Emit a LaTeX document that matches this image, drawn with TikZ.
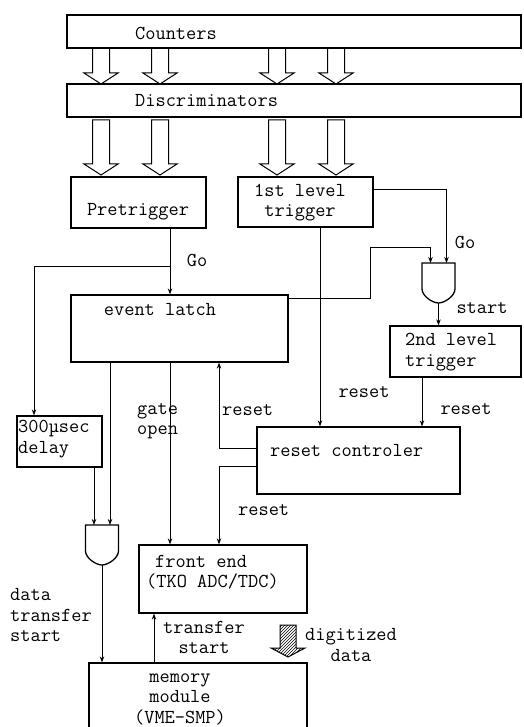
\documentclass[tikz,border=0pt]{standalone}
\usepackage{fontspec}
\usetikzlibrary{arrows.meta,fit,patterns}

\tikzset{
  blk/.style={draw,line width=1.3pt,inner sep=0pt},
  txt/.style={font=\ttfamily\fontsize{19.8}{20.5}\selectfont,inner sep=0pt},
  sig/.style={line width=0.9pt,-{Stealth[length=6pt,width=4.5pt]}},
  fat/.style={line width=1pt},
  pics/andgate/.style={code={
    \draw[line width=1.3pt] (-16.5,0) -- (16.5,0) -- (16.5,26)
      .. controls (16.5,33) and (6,40) .. (0,40)
      .. controls (-6,40) and (-16.5,33) .. (-16.5,26) -- cycle;
    \coordinate (-in1) at (-8,0);
    \coordinate (-in2) at (8,0);
    \coordinate (-out) at (0,40);
  }}
}

\begin{document}
\begin{tikzpicture}[x=1pt,y=-1pt]
  \useasboundingbox (0,0) rectangle (523,727);

  % boxes
  \node[blk,fit={(67,15) (521,48)}]    (cnt)  {};
  \node[blk,fit={(67,84) (521,117)}]   (disc) {};
  \node[blk,fit={(71,177) (206,228)}]  (pre)  {};
  \node[blk,fit={(238,177) (373,227)}] (lvl1) {};
  \node[blk,fit={(71,295) (288,362)}]  (el)   {};
  \node[blk,fit={(390,326) (521,377)}] (lvl2) {};
  \node[blk,fit={(17,416) (102,467)}]  (dly)  {};
  \node[blk,fit={(257,427) (460,494)}] (rc)   {};
  \node[blk,fit={(139,545) (307,613)}] (fe)   {};
  \node[blk,fit={(89,663) (307,745)}]  (mem)  {};

  % coincidence gates
  \pic (g2) at (438.5,263) {andgate};
  \pic (g1) at (102,525) {andgate};

  % hollow bus arrows
  \foreach \ax in {101,160,277,336}{
    \draw[fat] (\ax-8.5,48) -- (\ax-8.5,73) -- (\ax-17,73) -- (\ax,84)
      -- (\ax+17,73) -- (\ax+8.5,73) -- (\ax+8.5,48);
    \draw[fat] (\ax-8.5,120) -- (\ax-8.5,164) -- (\ax-17,164) -- (\ax,175)
      -- (\ax+17,164) -- (\ax+8.5,164) -- (\ax+8.5,120) -- cycle;
  }
  \draw[fat,pattern=north east lines] (280,625) -- (280,648) -- (271,648) -- (288,657)
    -- (305,648) -- (296,648) -- (296,625) -- cycle;

  % signals
  \draw[sig] (pre.south -| 170,0) -- (el.north -| 170,0);
  \coordinate (split) at (170,266);
  \draw[sig] (split) -| (dly.north -| 34,0);
  \draw[sig] (lvl1.east |- 0,189) -| (g2-in2);
  \draw[sig] (el.east |- 0,298) -| (370,247) -| (g2-in1);
  \draw[sig] (g2-out) -- (lvl2.north -| g2-out);
  \draw[sig] (lvl1.south -| 320,0) -- (rc.north -| 320,0);
  \draw[sig] (lvl2.south -| 422,0) -- (rc.north -| 422,0);
  \draw[sig] (rc.west |- 0,448) -| (el.south -| 219,0);
  \draw[sig] (rc.west |- 0,466) -| (fe.north -| 219,0);
  \draw[sig] (el.south -| 170,0) -- (fe.north -| 170,0);
  \draw[sig] (el.south -| 110,0) -- (g1-in2);
  \draw[sig] (dly.south -| 94,0) -- (g1-in1);
  \draw[sig] (g1-out) -- (mem.north -| g1-out);
  \draw[sig] (mem.north -| 154,0) -- (fe.south -| 154,0);

  % labels
  \node[txt,anchor=west] (tCnt)  at (135,33.5) {Counters};
  \node[txt,anchor=west] (tDisc) at (135,100.5) {Discriminators};
  \node[txt] (tPre)  at (138,211.5) {Pretrigger};
  \node[txt,align=center] (tLvl1) at (300,202.5) {1st level\\trigger};
  \node[txt] (tGo1)  at (197,260) {Go};
  \node[txt] (tGo2)  at (465,242) {Go};
  \node[txt] (tEl)   at (160,309.5) {event latch};
  \node[txt] (tStart) at (482,308) {start};
  \node[txt,anchor=west,align=left] (tLvl2) at (405,352) {2nd level\\trigger};
  \node[txt] (tRst1) at (364,392) {reset};
  \node[txt] (tRst2) at (466,409) {reset};
  \node[txt,anchor=west,align=left] (tDly) at (18,439) {300µsec\\delay};
  \node[txt,anchor=west,align=left] (tGate) at (137,421) {gate\\open};
  \node[txt,anchor=west] (tRst3) at (222,410) {reset};
  \node[txt,anchor=west] (tRc)   at (270,451) {reset controler};
  \node[txt,anchor=west] (tRst4) at (238,510) {reset};
  \node[txt,anchor=west,align=left] (tDts) at (10,615.5) {data\\transfer\\start};
  \node[txt,anchor=west] (tFe1)  at (155,561) {front end};
  \node[txt,anchor=west] (tFe2)  at (146,581) {(TKO ADC/TDC)};
  \node[txt,align=center] (tTs)  at (204,637.5) {transfer\\start};
  \node[txt,align=center] (tDig) at (351,645) {digitized\\data};
  \node[txt,align=center] (tMem) at (180,699) {memory\\module\\(VME-SMP)};
\end{tikzpicture}
\end{document}
